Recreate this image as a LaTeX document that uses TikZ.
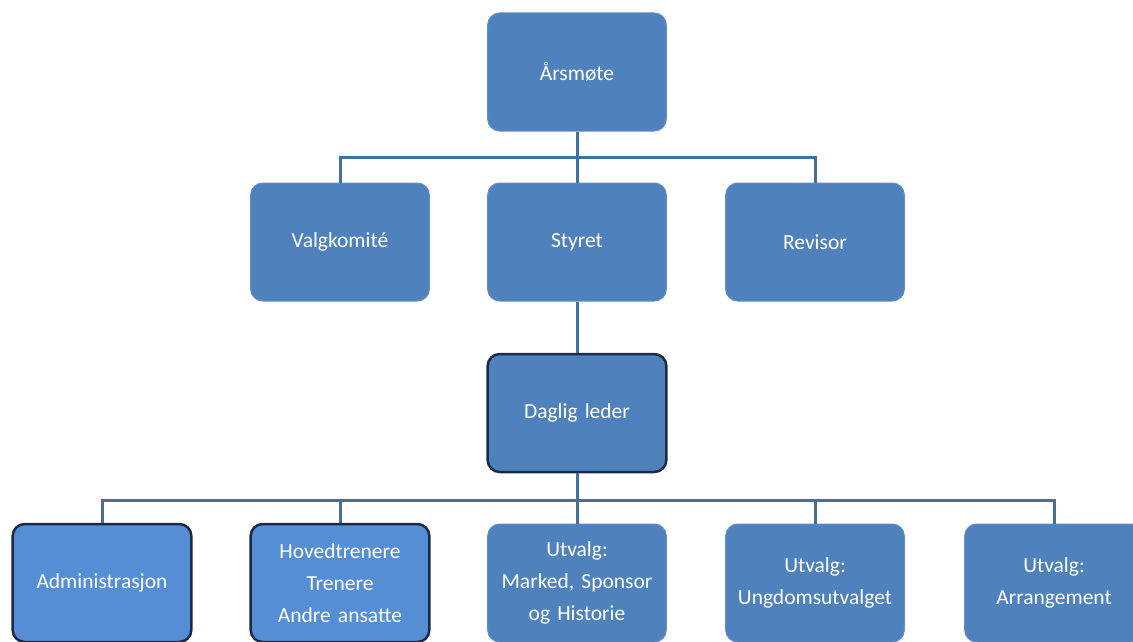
\documentclass[tikz,border=0pt]{standalone}
\usepackage{fontspec}
\setmainfont{Carlito}
\usetikzlibrary{positioning,calc}

\definecolor{boxblue}{HTML}{4F81BD}
\definecolor{boxlight}{HTML}{558ED5}
\definecolor{edgeblue}{HTML}{5E8FCC}
\definecolor{navy}{HTML}{1C2A44}
\definecolor{linkblue}{HTML}{41719C}

\tikzset{
  unit/.style={rectangle, rounded corners=12pt, fill=boxblue, draw=edgeblue, line width=1pt,
    minimum width=178pt, minimum height=118pt, text width=172pt, align=center,
    text=white, font=\fontsize{21.5pt}{32pt}\selectfont},
  leader/.style={unit, draw=navy, line width=2.5pt},
  staff/.style={leader, fill=boxlight},
  link/.style={draw=linkblue, line width=3pt}
}

\begin{document}
\begin{tikzpicture}[x=1pt, y=-1pt]
  \useasboundingbox (0,0) rectangle (1133,642);

  \node[unit] (aarsmote) at (577,72) {Årsmøte};

  \node[unit] (valg) at (340,242) {Valgkomité};
  \node[unit] (styret) at (577,242) {Styret};
  \node[unit] (revisor) at (815,242) {Revisor};

  \node[leader] (daglig) at (577,413) {Daglig leder};

  \node[staff] (admin) at (102,583) {Administrasjon};
  \node[staff] (trenere) at (340,583) {Hovedtrenere\\Trenere\\Andre ansatte};
  \node[unit] (marked) at (577,583) {Utvalg:\\Marked, Sponsor\\og Historie};
  \node[unit] (ungdom) at (815,583) {Utvalg:\\Ungdomsutvalget};
  \node[unit] (arr) at (1054,583) {Utvalg:\\Arrangement};

  \coordinate (top) at (577,157);
  \coordinate (bot) at (577,500);

  \draw[link] (valg.north) |- (top) -| (revisor.north);
  \draw[link] (aarsmote.south) -- (styret.north);
  \draw[link] (styret.south) -- (daglig.north);

  \draw[link] (admin.north) |- (bot) -| (arr.north);
  \draw[link] (daglig.south) -- (marked.north);
  \draw[link] (trenere.north) -- (trenere.north |- bot);
  \draw[link] (ungdom.north) -- (ungdom.north |- bot);
\end{tikzpicture}
\end{document}
